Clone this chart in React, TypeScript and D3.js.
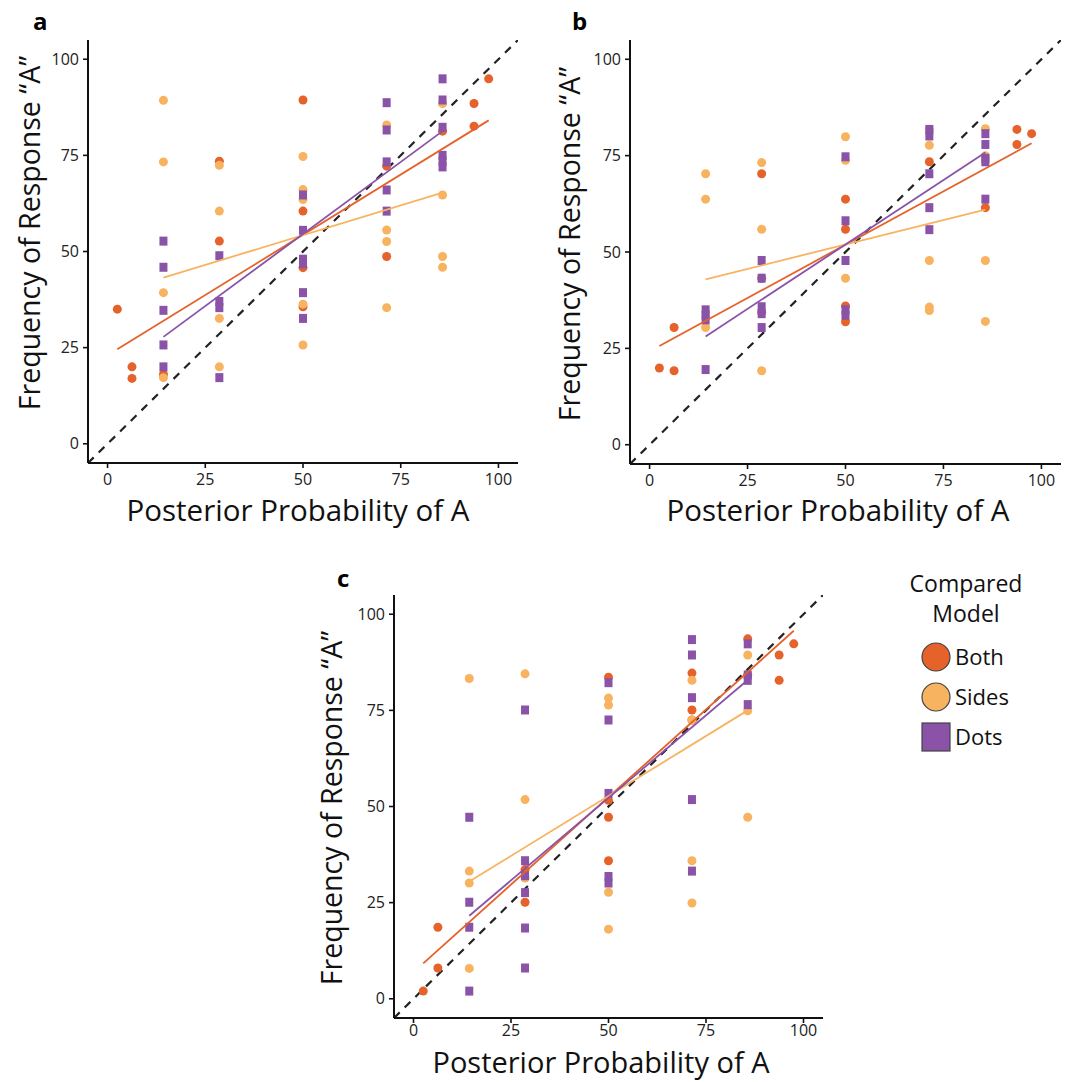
import React from "react";
import * as d3 from "d3";

// ---------- data ----------
const models = ["Both", "Sides", "Dots"];
const modelColors = ["#E5622A", "#F8B360", "#8A53A7"];
const tickValues = [0, 25, 50, 75, 100];
const panelLetters = ["a", "b", "c"];

const aBoth = [[2.5,35],[6.25,20],[6.25,17],[14.3,18],[28.6,73.5],[28.6,52.7],[50,89.4],[50,60.5],[50,45.8],[50,35.6],[71.4,72.2],[71.4,48.7],[85.7,81.3],[93.75,88.5],[93.75,82.6],[97.5,94.9]];
const aSides = [[14.3,89.3],[14.3,73.3],[14.3,39.3],[14.3,17.2],[28.6,72.4],[28.6,60.5],[28.6,32.6],[28.6,20],[50,74.7],[50,66.1],[50,63.5],[50,36.3],[50,25.7],[71.4,82.9],[71.4,55.6],[71.4,52.6],[71.4,35.4],[85.7,88.5],[85.7,64.7],[85.7,48.7],[85.7,45.9]];
const aDots = [[14.3,52.7],[14.3,45.9],[14.3,34.7],[14.3,25.7],[14.3,20],[28.6,48.9],[28.6,37],[28.6,35.4],[28.6,17.2],[50,64.7],[50,55.5],[50,48],[50,46.8],[50,39.3],[50,32.6],[71.4,88.7],[71.4,81.6],[71.4,73.3],[71.4,66],[71.4,60.5],[85.7,94.9],[85.7,89.4],[85.7,82.3],[85.7,75],[85.7,73.5],[85.7,72]];

const bBoth = [[2.5,19.9],[6.25,30.4],[6.25,19.2],[28.6,70.3],[28.6,43.2],[28.6,34.3],[50,63.7],[50,55.9],[50,36],[50,31.9],[71.4,73.4],[85.7,61.5],[93.75,81.8],[93.75,77.9],[97.5,80.7]];
const bSides = [[14.3,70.3],[14.3,63.7],[14.3,30.4],[28.6,73.2],[28.6,55.9],[28.6,19.2],[50,79.9],[50,73.8],[50,43.2],[71.4,81.8],[71.4,77.7],[71.4,47.8],[71.4,35.7],[71.4,34.8],[85.7,82],[85.7,75],[85.7,47.8],[85.7,32]];
const bDots = [[14.3,35],[14.3,33.6],[14.3,32.4],[14.3,19.5],[28.6,47.8],[28.6,43.2],[28.6,35.8],[28.6,34],[28.6,30.4],[50,74.7],[50,58.1],[50,47.8],[50,35],[50,33.6],[71.4,81.8],[71.4,80.1],[71.4,70.3],[71.4,61.5],[71.4,55.8],[85.7,80.7],[85.7,77.9],[85.7,74.3],[85.7,73.4],[85.7,63.7]];

const cBoth = [[2.5,2],[6.25,18.6],[6.25,8],[28.6,33.6],[28.6,25.1],[50,83.6],[50,51.6],[50,47.2],[50,35.9],[71.4,84.7],[71.4,75.1],[71.4,72.5],[85.7,93.6],[85.7,84.2],[93.75,89.4],[93.75,82.8],[97.5,92.3]];
const cSides = [[14.3,83.3],[14.3,33.2],[14.3,30.1],[14.3,7.9],[28.6,84.5],[28.6,51.8],[28.6,31.4],[50,78.2],[50,76.4],[50,27.7],[50,18.1],[71.4,82.8],[71.4,72.5],[71.4,35.9],[71.4,24.9],[85.7,89.4],[85.7,74.9],[85.7,47.2]];
const cDots = [[14.3,47.2],[14.3,25.1],[14.3,18.6],[14.3,2],[28.6,75.1],[28.6,35.9],[28.6,32],[28.6,27.6],[28.6,18.4],[28.6,8],[50,82.2],[50,72.5],[50,53.4],[50,31.8],[50,30.1],[71.4,93.4],[71.4,89.4],[71.4,78.3],[71.4,51.8],[71.4,33.2],[85.7,92.3],[85.7,84.2],[85.7,82.8],[85.7,76.5]];

// fitted lines (start/end)
const aFits = [[[2.5,24.6],[97.5,84.1]], [[14.3,43.2],[85.7,65.3]], [[14.3,27.8],[85.7,81.3]]];
const bFits = [[[2.5,25.6],[97.5,78.2]], [[14.3,42.9],[85.7,61.0]], [[14.3,28.1],[85.7,75.8]]];
const cFits = [[[2.5,9.2],[97.5,95.7]], [[14.3,30.5],[85.7,75.0]], [[14.3,21.6],[85.7,82.9]]];

const panelPoints = [[aBoth, aSides, aDots], [bBoth, bSides, bDots], [cBoth, cSides, cDots]];
const panelFits = [aFits, bFits, cFits];

// ---------- layout ----------
const layouts = [
  { x0: 88, x1: 518, y0: 463, y1: 40, letterX: 33, letterY: 30, yTitleX: 40, yTitleC: 233, xTitleC: 298, xTitleY: 521, tickOff: 22, xTitleSize: 29.5 },
  { x0: 630, x1: 1061, y0: 464, y1: 40, letterX: 572, letterY: 30, yTitleX: 580, yTitleC: 244, xTitleC: 838, xTitleY: 521, tickOff: 22, xTitleSize: 29.5 },
  { x0: 394, x1: 823, y0: 1018, y1: 595, letterX: 337, letterY: 587, yTitleX: 342, yTitleC: 808, xTitleC: 601, xTitleY: 1073, tickOff: 18, xTitleSize: 29 },
];
const FONT = "'Open Sans', 'Noto Sans', sans-serif";

function Panel({ idx }: { idx: number }) {
  const L = layouts[idx];
  const x = d3.scaleLinear().domain([-5, 105]).range([L.x0, L.x1]);
  const y = d3.scaleLinear().domain([-5, 105]).range([L.y0, L.y1]);
  const line = d3.line<number[]>().x((d) => x(d[0])).y((d) => y(d[1]));
  const clipId = `clip${idx}`;
  const pts = panelPoints[idx];
  const fits = panelFits[idx];
  return (
    <g>
      <defs>
        <clipPath id={clipId}>
          <rect x={L.x0} y={L.y1} width={L.x1 - L.x0} height={L.y0 - L.y1} />
        </clipPath>
      </defs>
      <g clipPath={`url(#${clipId})`}>
        <path d={line([[-5, -5], [105, 105]]) || ""} stroke="#222" strokeWidth={2.2} strokeDasharray="8,7" fill="none" />
        {pts.map((arr, m) =>
          arr.map((d, i) =>
            m === 2 ? (
              <rect key={`${m}-${i}`} x={x(d[0]) - 4} y={y(d[1]) - 4.5} width={8} height={9} fill={modelColors[m]} />
            ) : (
              <circle key={`${m}-${i}`} cx={x(d[0])} cy={y(d[1])} r={4.5} fill={modelColors[m]} />
            )
          )
        )}
        {fits.map((f, m) => (
          <path key={`f${m}`} d={line(f) || ""} stroke={modelColors[m]} strokeWidth={1.8} fill="none" />
        ))}
      </g>
      {/* axes */}
      <line x1={L.x0} x2={L.x1} y1={L.y0} y2={L.y0} stroke="#111" strokeWidth={2} />
      <line x1={L.x0} x2={L.x0} y1={L.y0} y2={L.y1} stroke="#111" strokeWidth={2} />
      {tickValues.map((t) => (
        <g key={`xt${t}`}>
          <line x1={x(t)} x2={x(t)} y1={L.y0} y2={L.y0 + 5} stroke="#111" strokeWidth={1.6} />
          <text x={x(t)} y={L.y0 + L.tickOff} textAnchor="middle" fontSize={16} fill="#222" fontFamily={FONT}>{t}</text>
        </g>
      ))}
      {tickValues.map((t) => (
        <g key={`yt${t}`}>
          <line x1={L.x0 - 5} x2={L.x0} y1={y(t)} y2={y(t)} stroke="#111" strokeWidth={1.6} />
          <text x={L.x0 - 9} y={y(t) + 5.5} textAnchor="end" fontSize={16} fill="#222" fontFamily={FONT}>{t}</text>
        </g>
      ))}
      <text x={L.xTitleC} y={L.xTitleY} textAnchor="middle" fontSize={L.xTitleSize} fill="#111" fontFamily={FONT}>
        Posterior Probability of A
      </text>
      <text
        transform={`translate(${L.yTitleX},${L.yTitleC}) rotate(-90)`}
        textAnchor="middle"
        fontSize={28.5}
        fill="#111"
        fontFamily={FONT}
      >
        Frequency of Response “A”
      </text>
      <text x={L.letterX} y={L.letterY} fontSize={24} fontWeight="bold" fill="#000" fontFamily={FONT}>
        {panelLetters[idx]}
      </text>
    </g>
  );
}

function Legend() {
  const lx = 936;
  const ly = [657, 697, 737];
  return (
    <g fontFamily={FONT} fill="#111">
      <text x={966} y={592} textAnchor="middle" fontSize={23}>Compared</text>
      <text x={966} y={622} textAnchor="middle" fontSize={23}>Model</text>
      {models.map((m, i) => (
        <g key={m}>
          {i === 2 ? (
            <rect x={lx - 14} y={ly[i] - 14} width={28} height={28} fill={modelColors[i]} stroke="#444" strokeWidth={1.2} />
          ) : (
            <circle cx={lx} cy={ly[i]} r={14} fill={modelColors[i]} stroke="#444" strokeWidth={1.2} />
          )}
          <text x={lx + 19} y={ly[i] + 8} fontSize={22}>{m}</text>
        </g>
      ))}
    </g>
  );
}

export default function App() {
  return (
    <svg width={1065} height={1082} style={{ position: "absolute", left: 0, top: 0, background: "#fff" }}>
      <rect width={1065} height={1082} fill="#fff" />
      {[0, 1, 2].map((i) => (
        <Panel key={i} idx={i} />
      ))}
      <Legend />
    </svg>
  );
}
